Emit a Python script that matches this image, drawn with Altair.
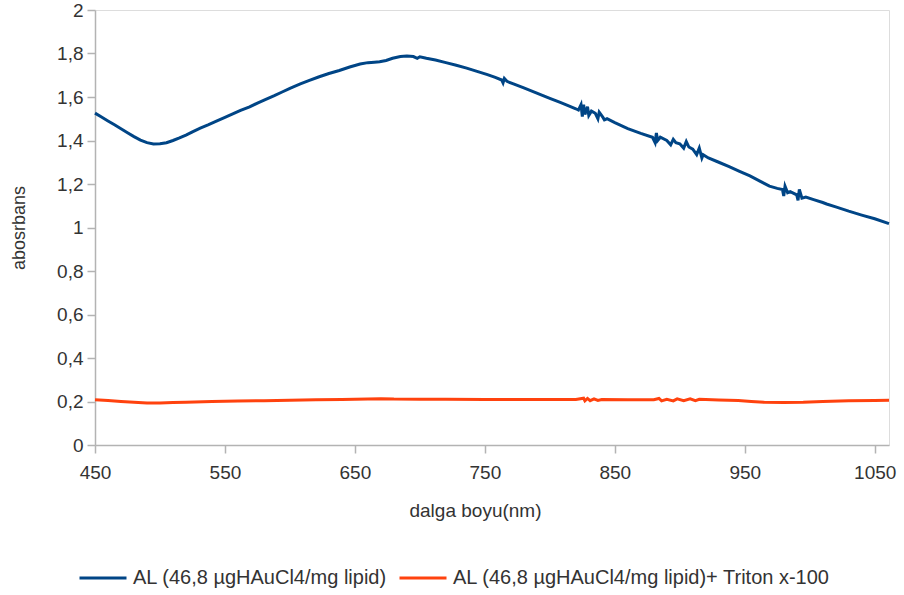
import altair as alt
import pandas as pd

# Series 1: AL (46,8 µgHAuCl4/mg lipid)
wl_blue = [450, 455, 460, 465, 470, 475, 480, 485, 490, 495, 500, 505, 510, 515, 520, 525,
           531, 537, 543, 550, 556, 562, 569, 575, 581, 588, 594, 600, 608, 615, 622, 630,
           638, 646, 654, 660, 665, 669, 674, 679, 685, 690, 695, 698, 700, 705, 712, 720,
           728, 736, 744, 752, 758, 763, 764, 765, 767, 772, 780, 790, 800, 808, 815, 820,
           822, 824, 825, 826, 827, 829, 830, 832, 835, 837, 838, 841, 842, 844, 850, 860,
           870, 879, 881, 882, 883, 885, 890, 893, 895, 897, 900, 903, 905, 907, 910, 913,
           915, 917, 918, 922, 930, 938, 946, 954, 962, 969, 975, 979, 980, 981, 983, 985,
           990, 991, 992, 994, 997, 1003, 1010, 1013, 1020, 1030, 1040, 1050, 1061]
abs_blue = [1.526, 1.508, 1.490, 1.472, 1.454, 1.436, 1.418, 1.402, 1.390, 1.384, 1.385, 1.390,
            1.400, 1.412, 1.425, 1.440, 1.457, 1.472, 1.488, 1.506, 1.522, 1.538, 1.555, 1.572,
            1.588, 1.606, 1.623, 1.640, 1.660, 1.676, 1.692, 1.708, 1.722, 1.738, 1.752, 1.758,
            1.760, 1.762, 1.768, 1.778, 1.786, 1.788, 1.786, 1.778, 1.785, 1.778, 1.770, 1.758,
            1.746, 1.733, 1.718, 1.703, 1.690, 1.678, 1.665, 1.685, 1.672, 1.660, 1.642, 1.618,
            1.594, 1.575, 1.558, 1.546,
            1.540, 1.565, 1.510, 1.565, 1.520, 1.555, 1.515, 1.535, 1.525, 1.500, 1.530, 1.505,
            1.495, 1.500, 1.482, 1.455,
            1.433, 1.415, 1.390, 1.435, 1.400, 1.415, 1.400, 1.380, 1.405, 1.390, 1.385, 1.365,
            1.395, 1.370, 1.360, 1.335,
            1.365, 1.320, 1.335, 1.320, 1.300, 1.280, 1.258, 1.237, 1.212, 1.190, 1.180, 1.175,
            1.145, 1.190, 1.160, 1.165,
            1.150, 1.125, 1.175, 1.135, 1.140, 1.128, 1.115, 1.108, 1.095, 1.075, 1.057, 1.040,
            1.018]

# Series 2: AL (46,8 µgHAuCl4/mg lipid)+ Triton x-100
wl_orange = [450, 460, 470, 480, 490, 500, 510, 520, 540, 560, 580, 600, 620, 640, 660, 670,
             680, 700, 720, 750, 780, 800, 820, 826, 827, 829, 831, 834, 837, 840, 860, 880,
             884, 886, 890, 895, 898, 903, 908, 912, 915, 930, 945, 955, 965, 980, 995, 1010,
             1030, 1050, 1061]
abs_orange = [0.208, 0.205, 0.200, 0.196, 0.193, 0.193, 0.195, 0.197, 0.200, 0.202, 0.204,
              0.206, 0.208, 0.209, 0.211, 0.213, 0.211, 0.210, 0.210, 0.209, 0.209, 0.209,
              0.209, 0.215, 0.203, 0.214, 0.204, 0.212, 0.205, 0.209, 0.208, 0.208, 0.214,
              0.203, 0.210, 0.203, 0.212, 0.204, 0.212, 0.204, 0.210, 0.207, 0.205, 0.200,
              0.196, 0.195, 0.196, 0.200, 0.203, 0.205, 0.206]

series_names = ["AL (46,8 µgHAuCl4/mg lipid)", "AL (46,8 µgHAuCl4/mg lipid)+ Triton x-100"]
series_colors = ["#004586", "#ff420e"]
x_ticks = [450, 550, 650, 750, 850, 950, 1050]
y_ticks = [0, 0.2, 0.4, 0.6, 0.8, 1.0, 1.2, 1.4, 1.6, 1.8, 2.0]

df = pd.concat([
    pd.DataFrame({"wl": wl_blue, "abs": abs_blue, "series": series_names[0]}),
    pd.DataFrame({"wl": wl_orange, "abs": abs_orange, "series": series_names[1]}),
])

FONT = "Liberation Sans"
AXIS_GRAY = "#b3b3b3"
TEXT = "#333333"

chart = alt.Chart(df).mark_line(strokeWidth=3).encode(
    x=alt.X("wl:Q",
            scale=alt.Scale(domain=[450, 1061], nice=False, zero=False),
            axis=alt.Axis(title="dalga boyu(nm)", values=x_ticks, grid=False, format="d",
                          labelFlush=False,
                          tickSize=8, labelPadding=10, titlePadding=19, titleX=380,
                          labelFontSize=19, titleFontSize=19, titleFontWeight="normal",
                          labelFont=FONT, titleFont=FONT,
                          labelColor=TEXT, titleColor=TEXT,
                          domainColor=AXIS_GRAY, tickColor=AXIS_GRAY,
                          domainWidth=1.5, tickWidth=1.5)),
    y=alt.Y("abs:Q",
            scale=alt.Scale(domain=[0, 2], nice=False),
            axis=alt.Axis(title="abosrbans", values=y_ticks, grid=False,
                          labelExpr="replace(format(datum.value, '.1~f'), '.', ',')",
                          labelFlush=False,
                          tickSize=8, labelPadding=4, titlePadding=28,
                          labelFontSize=19, titleFontSize=18, titleFontWeight="normal",
                          labelFont=FONT, titleFont=FONT,
                          labelColor=TEXT, titleColor=TEXT,
                          domainColor=AXIS_GRAY, tickColor=AXIS_GRAY,
                          domainWidth=1.5, tickWidth=1.5)),
    color=alt.Color("series:N",
                    scale=alt.Scale(domain=series_names, range=series_colors),
                    legend=alt.Legend(title=None, orient="none", direction="horizontal",
                                      legendX=-17, legendY=543,
                                      symbolType="stroke", symbolSize=2209,
                                      symbolStrokeWidth=3, labelOffset=5,
                                      columnPadding=6,
                                      labelFontSize=20, labelFont=FONT,
                                      labelColor=TEXT, labelLimit=600)),
).properties(
    width=794, height=435,
    autosize=alt.AutoSizeParams(type="none"),
    padding={"left": 95, "top": 10, "right": 15, "bottom": 150},
).configure_view(
    stroke=AXIS_GRAY, strokeWidth=1.5
).configure(background="white")

chart.save("out.html", embed_options={"renderer": "svg", "actions": False})
